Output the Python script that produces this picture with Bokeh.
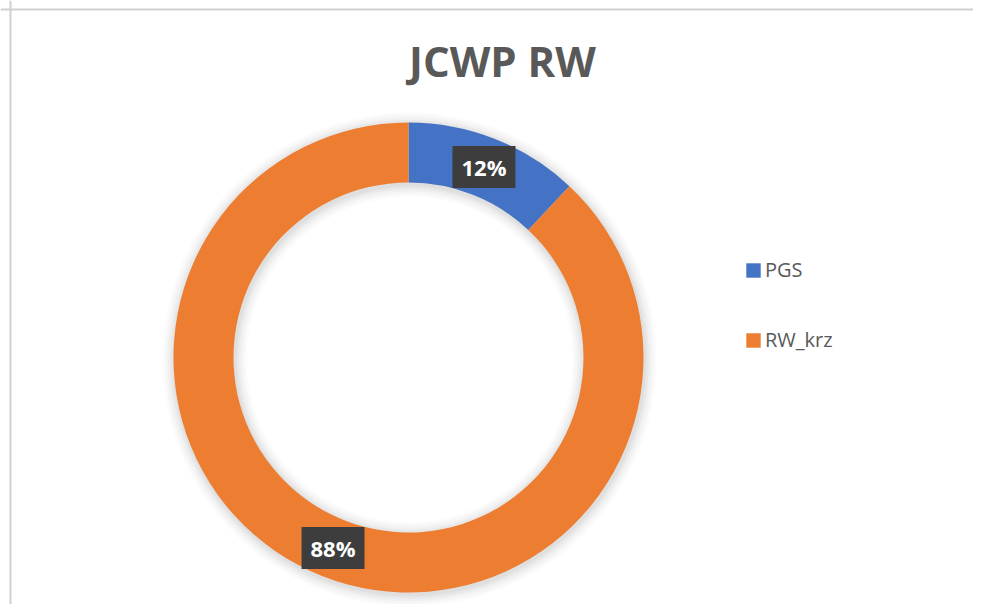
import math
from bokeh.plotting import figure
from bokeh.models import Range1d, Label, Legend, LegendItem, Span, ColumnDataSource
from bokeh.embed import file_html
from bokeh.resources import INLINE

title_text = "JCWP RW"
categories = ["PGS", "RW_krz"]
shares = [12, 88]
colors = ["#4472C4", "#ED7D31"]

W, H = 973, 604
p = figure(width=W, height=H, output_backend="svg", toolbar_location=None,
           x_range=Range1d(0, W), y_range=Range1d(0, H), min_border=0)
p.axis.visible = False
p.grid.visible = False
p.outline_line_color = None
p.background_fill_color = "white"
p.border_fill_color = "white"

cx, cy = 408, 247
r_out, r_in = 235, 175

# soft shadow
for k, a in enumerate([0.035, 0.03, 0.025, 0.02, 0.015]):
    d = 2 + 2.5 * k
    p.annulus(x=cx + 1, y=cy - 2, inner_radius=r_in - d, outer_radius=r_out + d,
              fill_color="#000000", fill_alpha=a, line_color=None)

total = sum(shares)
starts, ends, mids = [], [], []
cum = 0
for s in shares:
    a0 = math.pi / 2 - 2 * math.pi * cum / total
    cum += s
    a1 = math.pi / 2 - 2 * math.pi * cum / total
    starts.append(a0)
    ends.append(a1)
    mids.append((a0 + a1) / 2)

src = ColumnDataSource(dict(start=starts, end=ends, color=colors, cat=categories))
r = p.annular_wedge(x=cx, y=cy, inner_radius=r_in, outer_radius=r_out,
                    start_angle="start", end_angle="end", direction="clock",
                    fill_color="color", line_color=None, source=src)

rm = (r_in + r_out) / 2
for s, m in zip(shares, mids):
    lab = Label(x=cx + rm * math.cos(m), y=cy + rm * math.sin(m), text=f"{s}%",
                text_align="center", text_baseline="middle",
                text_font="Open Sans", text_font_style="bold", text_font_size="22px",
                text_color="white", background_fill_color="#3d3d3d",
                background_fill_alpha=1.0, padding=(9, 6))
    p.add_layout(lab)

p.add_layout(Label(x=502, y=544, text=title_text, text_align="center",
                   text_baseline="middle", text_font="Open Sans",
                   text_font_style="bold", text_font_size="42px",
                   text_color="#595959"))

items = [LegendItem(label=c, renderers=[r], index=i) for i, c in enumerate(categories)]
legend = Legend(items=items, location=(744, 251), orientation="vertical",
                glyph_width=18, glyph_height=18, label_height=18, spacing=43,
                label_standoff=3, padding=0, margin=0, border_line_color=None,
                background_fill_alpha=0, label_text_font="Open Sans",
                label_text_font_size="20px", label_text_color="#595959")
p.add_layout(legend)

p.add_layout(Span(location=595, dimension="width", line_color="#d0d0d0", line_width=2))
p.add_layout(Span(location=10, dimension="height", line_color="#d0d0d0", line_width=2))

open("out.html", "w").write(file_html(p, INLINE))
